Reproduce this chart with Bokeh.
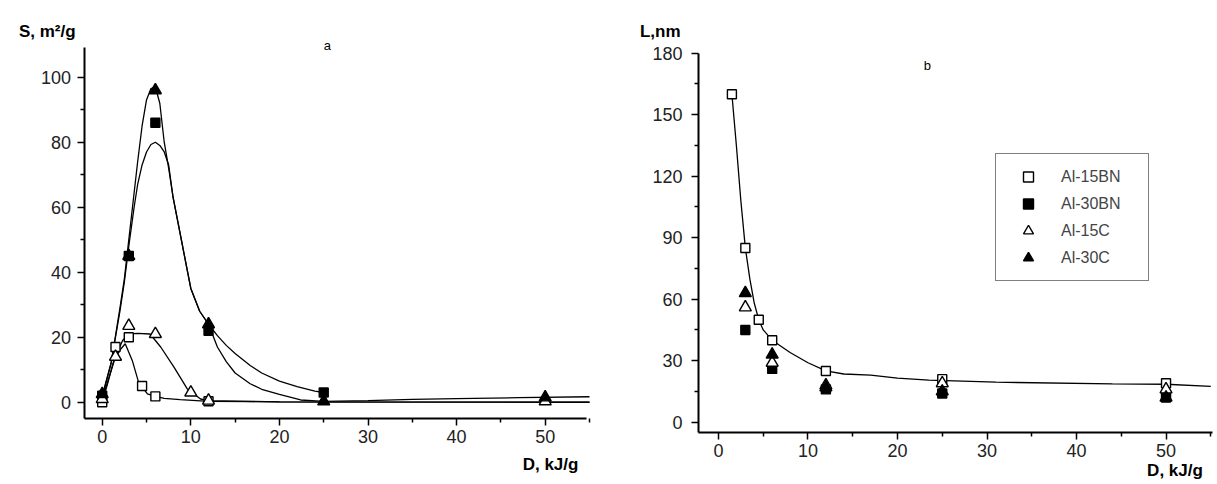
from bokeh.plotting import figure
from bokeh.layouts import row
from bokeh.models import FixedTicker, Label, Legend, LegendItem
from bokeh.embed import file_html
from bokeh.resources import INLINE

# ---------------- panel a : S vs D ----------------
d_15bn_s = [0, 1.5, 3, 4.5, 6, 12]
s_15bn = [0, 17, 20, 5, 1.8, 0.3]
d_30bn_s = [0, 3, 6, 12, 25]
s_30bn = [2, 45, 86, 22, 3]
d_15c_s = [0, 1.5, 3, 6, 10, 12, 50]
s_15c = [1, 14, 23.5, 21, 3, 0.5, 0.3]
d_30c_s = [0, 3, 6, 12, 25, 50]
s_30c = [2.5, 45, 96, 24, 0.3, 1.5]

# fitted curves
fit_15bn_x = [0, 0.6, 1.3, 2.1, 2.6, 3.4, 4.1, 5.1, 6, 7, 8.8, 12, 20, 55]
fit_15bn_y = [0, 5.7, 12.8, 16.4, 18, 12.8, 6.2, 2.6, 1.8, 1.2, 0.8, 0.3, 0.1, 0]
fit_15c_x = [0, 0.7, 1.5, 2.3, 3, 4, 5.4, 6.6, 8.1, 9.6, 11.1, 12, 20, 55]
fit_15c_y = [1, 7, 14, 19, 21, 21.2, 21, 17, 10.8, 4.1, 1, 0.5, 0.1, 0]
fit_30bn_x = [0, 1, 2, 2.5, 3, 3.6, 4, 4.5, 5, 5.5, 6, 6.5, 7, 7.5, 8, 9, 10, 11, 12,
              13, 14, 15, 16.7, 18, 20, 22, 24, 25]
fit_30bn_y = [2, 12, 28, 37, 48, 60, 67, 73, 77, 79.3, 80, 79, 77, 73, 63, 49, 35, 28, 24,
              20.5, 17.5, 15, 11.3, 9, 6.5, 4.8, 3.4, 3]
fit_30c_x = [0, 1, 2, 2.5, 3, 3.5, 4, 4.5, 5, 5.5, 6, 6.5, 7, 7.5, 8, 9, 10, 11, 12,
             13, 14, 15, 16.7, 18, 20, 22.4, 25, 30, 35, 40, 47, 55]
fit_30c_y = [1.5, 12, 29, 38, 50, 62, 74, 85, 93, 96.5, 97, 92, 80, 72, 63, 49, 35, 28, 24,
             17, 12.5, 9, 5.7, 4, 2.4, 0.7, 0.3, 0.5, 0.9, 1.1, 1.4, 1.7]

# ---------------- panel b : L vs D ----------------
d_15bn_l = [1.5, 3, 4.5, 6, 12, 25, 50]
l_15bn = [160, 85, 50, 40, 25, 21, 19]
d_30bn_l = [3, 6, 12, 25, 50]
l_30bn = [45, 26, 16, 14, 12]
d_15c_l = [3, 6, 12, 25, 50]
l_15c = [56, 29, 18, 19, 16]
d_30c_l = [3, 6, 12, 25, 50]
l_30c = [63, 33, 17, 15, 12]

fit_l_x = [1.5, 2, 2.5, 3, 3.5, 4, 4.5, 5, 6, 8, 10, 12, 14, 17, 20, 23.5, 31, 44, 50, 55]
fit_l_y = [160, 135, 108, 85, 70, 58, 50, 45, 40, 34, 29, 25, 23.5, 23, 21.5, 20.5, 19.5, 18.7, 18.5, 17.5]

x_ticks = [0, 10, 20, 30, 40, 50]
x_minor = [5, 15, 25, 35, 45, 55]
s_ticks = [0, 20, 40, 60, 80, 100]
s_minor = [10, 30, 50, 70, 90]
l_ticks = [0, 30, 60, 90, 120, 150, 180]
l_minor = [15, 45, 75, 105, 135, 165]

FONT = "Liberation Sans"


def style(p, xt, xm, yt, ym, xb, yb, ystand):
    p.title.visible = False
    p.xgrid.visible = False
    p.ygrid.visible = False
    p.outline_line_color = None
    p.background_fill_color = "white"
    p.border_fill_color = "white"
    p.xaxis.ticker = FixedTicker(ticks=xt, minor_ticks=xm)
    p.yaxis.ticker = FixedTicker(ticks=yt, minor_ticks=ym)
    p.xaxis.bounds = xb
    p.yaxis.bounds = yb
    p.xaxis.fixed_location = yb[0]
    p.yaxis.fixed_location = xb[0]
    for ax in (p.xaxis, p.yaxis):
        ax.axis_line_width = 2
        ax.axis_line_color = "black"
        ax.major_tick_line_width = 1.5
        ax.minor_tick_line_width = 1.5
        ax.major_tick_line_color = "black"
        ax.minor_tick_line_color = "black"
        ax.major_tick_in = 0
        ax.major_tick_out = 7
        ax.minor_tick_in = 0
        ax.minor_tick_out = 4
        ax.major_label_text_font = FONT
        ax.major_label_text_font_size = "18px"
        ax.major_label_text_color = "#222222"
    p.xaxis.major_label_standoff = 5
    p.yaxis.major_label_standoff = ystand


def add_markers(p, pts):
    rs = []
    for (xs, ys, marker, fill) in pts:
        sz = 9 if marker == "square" else 12
        r = p.scatter(xs, ys, marker=marker, size=sz, line_color="black",
                      line_width=1.4, fill_color=fill)
        rs.append(r)
    return rs


def text(p, x, y, t, bold=True, size="16px"):
    p.add_layout(Label(x=x, y=y, text=t, text_font=FONT,
                       text_font_style="bold" if bold else "normal",
                       text_font_size=size, text_align="center", text_baseline="middle",
                       text_color="black"))


# ---------- figure a ----------
pa = figure(width=600, height=484, x_range=(-11.48, 56.24), y_range=(-25.3, 123.6),
            output_backend="svg", toolbar_location=None,
            min_border_left=0, min_border_right=0, min_border_top=0, min_border_bottom=0)
style(pa, x_ticks, x_minor, s_ticks, s_minor, (-1.95, 54.7), (-4.85, 109.0), 7)

for fx, fy in ((fit_15bn_x, fit_15bn_y), (fit_15c_x, fit_15c_y),
               (fit_30bn_x, fit_30bn_y), (fit_30c_x, fit_30c_y)):
    pa.line(fx, fy, line_color="black", line_width=1.3)

add_markers(pa, [(d_15bn_s, s_15bn, "square", "white"),
                 (d_30bn_s, s_30bn, "square", "black"),
                 (d_15c_s, s_15c, "triangle", "white"),
                 (d_30c_s, s_30c, "triangle", "black")])

text(pa, -6.2, 114.1, "S, m²/g", size="17px")
text(pa, 25.4, 109.8, "a", bold=False, size="13px")
text(pa, 50.6, -19.2, "D, kJ/g", size="17px")

# ---------- figure b ----------
pb = figure(width=617, height=484, x_range=(-13.18, 55.75), y_range=(-30.4, 205.7),
            output_backend="svg", toolbar_location=None,
            min_border_left=0, min_border_right=0, min_border_top=0, min_border_bottom=0)
style(pb, x_ticks, x_minor, l_ticks, l_minor, (-2.23, 55.2), (-4.9, 180.0), 9)

pb.line(fit_l_x, fit_l_y, line_color="black", line_width=1.3)
rb = add_markers(pb, [(d_15bn_l, l_15bn, "square", "white"),
                      (d_30bn_l, l_30bn, "square", "black"),
                      (d_15c_l, l_15c, "triangle", "white"),
                      (d_30c_l, l_30c, "triangle", "black")])

text(pb, -6.5, 190.6, "L,nm", size="17px")
text(pb, 23.35, 174.0, "b", bold=False, size="13px")
text(pb, 51.0, -23.6, "D, kJ/g", size="17px")

names = ["Al-15BN", "Al-30BN", "Al-15C", "Al-30C"]
legend = Legend(items=[LegendItem(label=n, renderers=[r]) for n, r in zip(names, rb)],
                location=(395, 203), padding=10, spacing=2, glyph_height=25, glyph_width=44,
                label_standoff=11, label_width=77, label_text_font=FONT,
                label_text_font_size="16px", border_line_color="black",
                border_line_width=1.5, background_fill_color="white",
                background_fill_alpha=1.0, margin=0)
pb.add_layout(legend)

layout = row(pa, pb)
open("out.html", "w").write(file_html(layout, INLINE))
